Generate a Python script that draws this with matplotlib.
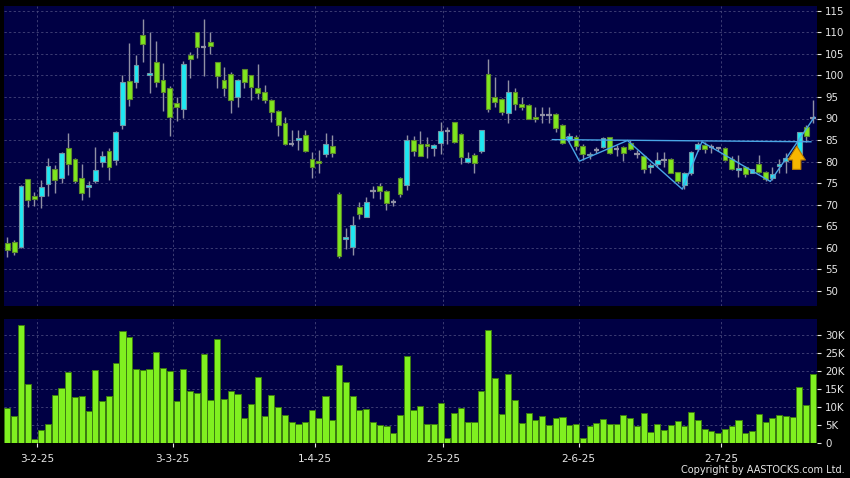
import matplotlib
matplotlib.use("Agg")
import matplotlib.pyplot as plt
import numpy as np


OPEN = [
    61.1, 61.3, 60.3, 75.9, 72.0, 72.1, 74.7, 78.2, 76.1, 83.1,
    80.5, 76.1, 74.0, 75.4, 80.0, 82.5, 80.4, 88.6, 98.7, 98.5,
    109.4, 100.0, 103.0, 98.9, 97.0, 93.5, 92.1, 104.7, 110.0, 106.7,
    107.7, 103.0, 98.9, 100.3, 95.1, 101.6, 100.0, 97.0, 96.1, 94.3,
    91.7, 88.9, 84.2, 85.0, 86.2, 80.5, 80.2, 81.7, 83.7, 72.4,
    62.0, 60.1, 69.4, 67.1, 73.2, 74.4, 73.2, 70.6, 76.1, 74.6,
    84.9, 84.2, 84.0, 83.1, 84.4, 87.2, 89.1, 86.3, 80.0, 81.5,
    82.5, 100.3, 94.9, 94.6, 91.2, 96.1, 93.3, 93.1, 90.4, 90.8,
    90.8, 91.0, 88.5, 85.0, 85.6, 83.7, 81.5, 82.7, 83.5, 85.6,
    82.9, 83.3, 84.4, 81.8, 81.3, 78.8, 79.5, 80.4, 80.5, 77.5,
    74.6, 77.3, 82.9, 83.8, 83.5, 83.1, 83.2, 80.5, 78.1, 78.8,
    77.4, 79.4, 77.7, 76.3, 79.0, 80.1, 80.8, 81.8, 88.1, 90.1,
]
HIGH = [
    62.5, 61.7, 74.6, 76.0, 73.0, 75.7, 80.8, 79.2, 82.3, 86.6,
    80.8, 79.5, 75.4, 83.5, 82.5, 83.2, 87.2, 100.1, 107.6, 104.7,
    113.1, 110.0, 108.0, 102.9, 97.5, 95.1, 103.3, 105.5, 110.0, 113.2,
    110.0, 103.0, 102.0, 100.9, 99.2, 101.6, 100.0, 102.6, 97.8, 94.5,
    91.9, 90.3, 87.3, 87.3, 87.3, 82.3, 82.7, 86.6, 86.2, 73.0,
    64.5, 67.4, 70.7, 71.9, 74.4, 75.1, 73.5, 71.3, 76.5, 86.2,
    86.0, 87.1, 85.8, 84.2, 89.1, 88.1, 89.3, 86.6, 82.3, 81.9,
    87.4, 103.9, 99.7, 94.8, 98.9, 97.0, 95.1, 93.3, 92.6, 92.7,
    92.6, 91.2, 88.7, 86.6, 86.2, 84.2, 82.3, 83.5, 85.6, 85.8,
    83.9, 83.6, 85.0, 82.7, 81.5, 79.6, 82.3, 82.3, 80.8, 77.6,
    77.5, 82.5, 84.6, 84.6, 84.1, 83.5, 83.4, 81.2, 81.5, 79.0,
    78.4, 81.5, 77.9, 78.8, 80.5, 81.9, 82.3, 86.8, 88.5, 94.4,
]
LOW = [
    57.8, 58.4, 60.0, 69.4, 69.6, 69.2, 72.1, 72.8, 75.0, 76.9,
    75.0, 71.1, 71.9, 75.1, 78.8, 75.7, 79.2, 87.6, 92.9, 97.0,
    103.2, 96.0, 97.2, 91.7, 86.0, 89.5, 90.2, 99.3, 104.1, 99.9,
    105.0, 97.0, 95.2, 91.2, 92.7, 97.0, 94.4, 94.6, 93.7, 89.3,
    85.9, 83.8, 83.7, 82.7, 82.3, 76.3, 77.4, 81.0, 81.0, 57.6,
    59.7, 58.4, 66.7, 67.1, 71.6, 71.3, 68.8, 69.6, 71.9, 73.4,
    81.3, 81.2, 80.9, 81.3, 81.8, 84.1, 84.4, 79.4, 79.6, 77.4,
    82.1, 91.4, 92.6, 90.8, 89.0, 92.0, 92.0, 89.8, 89.3, 88.9,
    88.9, 86.9, 84.1, 84.6, 82.7, 80.4, 80.5, 81.9, 83.1, 81.8,
    81.2, 80.1, 82.7, 80.8, 77.3, 77.3, 78.8, 78.8, 77.3, 75.0,
    73.6, 76.9, 82.5, 81.9, 81.9, 82.5, 80.2, 78.1, 76.4, 76.4,
    77.3, 77.3, 75.4, 75.7, 77.3, 77.3, 80.3, 81.5, 84.6, 89.0,
]
CLOSE = [
    59.5, 59.0, 74.4, 71.0, 71.3, 74.0, 79.0, 75.7, 81.9, 79.4,
    75.4, 72.8, 74.5, 78.1, 81.3, 78.8, 86.8, 98.4, 94.6, 102.4,
    107.2, 100.5, 98.4, 96.1, 90.3, 92.7, 102.6, 103.7, 106.7, 106.7,
    106.9, 99.9, 97.0, 94.3, 99.0, 98.4, 97.4, 96.0, 94.3, 91.4,
    88.6, 84.2, 84.2, 85.5, 82.5, 78.7, 79.7, 84.2, 81.9, 58.2,
    62.6, 65.2, 67.8, 70.6, 73.2, 73.2, 70.3, 70.6, 72.4, 84.9,
    82.5, 81.4, 83.6, 83.8, 87.1, 87.2, 84.6, 81.0, 80.8, 79.6,
    87.3, 92.1, 93.9, 91.6, 96.1, 93.4, 92.6, 90.0, 89.8, 90.8,
    90.8, 87.7, 84.4, 85.9, 83.7, 81.7, 81.8, 82.7, 85.4, 81.9,
    82.9, 81.9, 82.9, 81.8, 78.4, 79.2, 80.4, 80.4, 77.4, 75.4,
    77.3, 82.3, 84.1, 82.9, 83.5, 83.1, 80.4, 78.4, 78.6, 77.1,
    78.2, 77.5, 75.9, 77.1, 79.4, 80.8, 81.6, 86.8, 85.9, 90.1,
]
VOLUME_K = [
    9.7, 7.4, 32.7, 16.4, 1.1, 3.7, 5.2, 13.2, 15.2, 19.6,
    12.7, 13.1, 8.9, 20.1, 11.7, 13.0, 22.1, 31.1, 29.2, 20.5,
    20.1, 20.5, 25.1, 20.7, 19.8, 11.7, 20.5, 14.4, 13.8, 24.7,
    11.8, 28.7, 12.3, 14.4, 13.6, 6.9, 10.9, 18.3, 7.4, 13.2,
    9.9, 7.8, 5.8, 5.2, 5.8, 9.2, 6.9, 12.9, 6.3, 21.6,
    17.0, 12.9, 9.0, 9.5, 5.8, 4.9, 4.6, 2.8, 7.8, 24.2,
    9.0, 10.1, 5.3, 5.3, 11.0, 1.4, 8.3, 9.7, 5.8, 5.8,
    14.5, 31.3, 18.1, 8.0, 19.2, 11.9, 5.5, 8.2, 6.3, 7.6,
    5.1, 6.9, 7.2, 5.1, 5.3, 1.4, 4.8, 5.5, 6.6, 5.3,
    5.3, 7.8, 6.9, 4.8, 8.3, 3.0, 5.2, 3.7, 4.9, 6.0,
    4.6, 8.7, 6.4, 4.0, 3.2, 2.8, 3.9, 4.6, 6.3, 2.9,
    3.2, 8.1, 5.7, 6.9, 7.7, 7.5, 7.1, 15.5, 10.6, 19.1,
]

DATE_LABELS = ['3-2-25', '3-3-25', '1-4-25', '2-5-25', '2-6-25', '2-7-25']
DATE_INDEX = [4, 24, 45, 64, 84, 105]
PRICE_TICKS = [50, 55, 60, 65, 70, 75, 80, 85, 90, 95, 100, 105, 110, 115]
VOLUME_TICKS = [0, 5, 10, 15, 20, 25, 30]

# pattern drawn by the site (bar index, price)
NECKLINE_X = [80.5, 118.7]
NECKLINE_Y = [85.1, 84.6]
ZIGZAG_X = [82.6, 84.5, 91.6, 99.7, 102.6, 112.7, 119.2]
ZIGZAG_Y = [85.6, 80.1, 84.9, 73.6, 84.6, 75.4, 90.3]
ARROW_X = 116.6
ARROW_Y = [78.2, 83.6]

BG = '#000044'
GREEN = '#7ee61e'
CYAN = '#1ee8f2'
WICK = '#9090a4'
GRID = '#4c4c80'
TEXT = '#e6e6e6'
LINE = '#4aa6e6'


def style_axis(ax):
    ax.set_facecolor(BG)
    for s in ax.spines.values():
        s.set_visible(False)
    ax.set_axisbelow(True)
    ax.grid(True, color=GRID, lw=0.55, ls=(0, (3, 3)))
    ax.yaxis.tick_right()
    ax.tick_params(axis='y', colors=TEXT, labelsize=7.4, length=3, width=0.8, pad=3)


def main():
    x = np.arange(len(CLOSE))
    o, h, l, c = (np.array(a) for a in (OPEN, HIGH, LOW, CLOSE))
    up = c > o
    down = c < o
    flat = c == o

    fig = plt.figure(figsize=(8.5, 4.78), dpi=100, facecolor='black')
    ax = fig.add_axes([4 / 850, 172 / 478, 813 / 850, 300 / 478])
    axv = fig.add_axes([4 / 850, 35 / 478, 813 / 850, 124 / 478], sharex=ax)
    style_axis(ax)
    style_axis(axv)

    ax.vlines(x, l, h, color=WICK, lw=1, zorder=2)
    ax.bar(x[up], (c - o)[up], bottom=o[up], width=0.7, color=CYAN,
           edgecolor='#6f96a6', lw=0.8, zorder=3)
    ax.bar(x[down], (o - c)[down], bottom=c[down], width=0.7, color=GREEN,
           edgecolor='#5d8a2a', lw=0.8, zorder=3)
    ax.hlines(c[flat], x[flat] - 0.38, x[flat] + 0.38, color=WICK, lw=1.6, zorder=3)

    ax.plot(NECKLINE_X, NECKLINE_Y, color=LINE, lw=1, zorder=4)
    ax.plot(ZIGZAG_X, ZIGZAG_Y, color=LINE, lw=1, zorder=4)
    ax.annotate('', xy=(ARROW_X, ARROW_Y[1]), xytext=(ARROW_X, ARROW_Y[0]),
                arrowprops=dict(arrowstyle='simple,head_width=1.25,head_length=1.0,tail_width=0.6',
                                mutation_scale=10, shrinkA=0, shrinkB=0,
                                fc='#f7b600', ec='#b87a00', lw=0.8), zorder=5)

    ax.set_ylim(46.5, 116.1)
    ax.set_yticks(PRICE_TICKS)
    ax.set_xlim(-0.5, 119.6)
    tick_pos = [d + 0.4 for d in DATE_INDEX]
    ax.set_xticks(tick_pos)
    ax.tick_params(axis='x', labelbottom=False, length=0)

    axv.bar(x, VOLUME_K, width=0.9, color='#80f020', edgecolor='#3c7c12', lw=0.7, zorder=3)
    axv.set_ylim(0, 34.3)
    axv.set_yticks(VOLUME_TICKS)
    axv.set_yticklabels(['0' if v == 0 else f'{v}K' for v in VOLUME_TICKS])
    axv.set_xticks(tick_pos)
    axv.set_xticklabels(DATE_LABELS)
    axv.tick_params(axis='x', colors=TEXT, labelsize=7.6, length=3, width=0.8, pad=5)

    fig.text(0.994, 0.011, 'Copyright by AASTOCKS.com Ltd.', ha='right', va='baseline',
             color=TEXT, fontsize=7)

    fig.savefig('out.png', dpi=100, facecolor='black')


if __name__ == "__main__":
    main()
